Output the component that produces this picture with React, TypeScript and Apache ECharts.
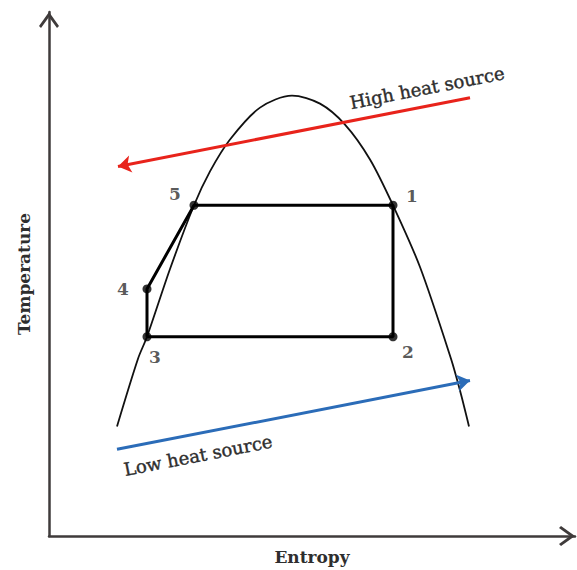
import React, { useEffect, useRef } from "react";
import * as echarts from "echarts";

// Saturation dome (entropy, temperature) in arbitrary units
const domeS = [68, 89, 98, 121, 145, 161, 181, 211, 243, 271, 296, 321, 344, 371, 402, 411, 420];
const domeT = [110, 178, 200, 268, 332, 366, 398, 430, 442, 434, 413, 378, 332, 270, 178, 146, 110];

// Cycle state points
const stateNames = ["1", "2", "3", "4", "5"];
const stateS = [344, 344, 98, 98, 145];
const stateT = [332, 200, 200, 248, 332];
const cycleOrder = [2, 3, 4, 0, 1, 2]; // 3 -> 4 -> 5 -> 1 -> 2 -> 3

// Heat source arrows (from tail to head)
const highSourceS = [421, 69];
const highSourceT = [440, 371];
const lowSourceS = [68, 421];
const lowSourceT = [87, 156];

const highLabel = "High heat source";
const lowLabel = "Low heat source";
const highLabelAt = [378, 450];
const lowLabelAt = [149, 81];

const axisMax = 526;
const FONT = "'DejaVu Serif', serif";
const TEXT = "#2e2e2e";

const labelOffsets: Record<string, number[]> = {
  "1": [19, -9],
  "2": [15, 15],
  "3": [8, 20],
  "4": [-24, 0],
  "5": [-19, -11],
};

const chevron = "path://M10,0 L20,14 L18,16 L10,5 L2,16 L0,14 Z";

export default function App() {
  const ref = useRef<HTMLDivElement>(null);
  useEffect(() => {
    if (!ref.current) return;
    const chart = echarts.init(ref.current, undefined, { renderer: "svg" });
    const axisLine = {
      show: true,
      symbol: ["none", chevron],
      symbolSize: [20, 16],
      symbolOffset: [0, -8],
      lineStyle: { color: "#3f3b3b", width: 2.5 },
    };
    const dome = domeS.map((s, i) => [s, domeT[i]]);
    const cycle = cycleOrder.map((k) => [stateS[k], stateT[k]]);
    const states = stateNames.map((n, i) => ({
      name: n,
      value: [stateS[i], stateT[i]],
      label: { offset: labelOffsets[n] },
    }));
    chart.setOption({
      animation: false,
      grid: { left: 49, right: 2, top: 12, bottom: 32, containLabel: false },
      xAxis: {
        type: "value",
        min: 0,
        max: axisMax,
        name: "Entropy",
        nameLocation: "middle",
        nameGap: 12,
        nameTextStyle: { fontFamily: FONT, fontSize: 17, fontWeight: "bold", color: TEXT, verticalAlign: "top" },
        axisLine,
        axisTick: { show: false },
        axisLabel: { show: false },
        splitLine: { show: false },
      },
      yAxis: {
        type: "value",
        min: 0,
        max: axisMax,
        name: "Temperature",
        nameLocation: "middle",
        nameRotate: 90,
        nameGap: 17,
        nameTextStyle: { fontFamily: FONT, fontSize: 17, fontWeight: "bold", color: TEXT },
        axisLine,
        axisTick: { show: false },
        axisLabel: { show: false },
        splitLine: { show: false },
      },
      series: [
        {
          type: "line",
          data: dome,
          smooth: 0.3,
          showSymbol: false,
          lineStyle: { color: "#111", width: 1.8 },
          z: 2,
        },
        {
          type: "line",
          data: cycle,
          showSymbol: false,
          lineStyle: { color: "#000", width: 3 },
          z: 3,
        },
        {
          type: "scatter",
          data: states,
          symbol: "circle",
          symbolSize: 9,
          itemStyle: { color: "#000" },
          label: {
            show: true,
            position: "inside",
            formatter: "{b}",
            fontFamily: FONT,
            fontSize: 17,
            fontWeight: "bold",
            color: TEXT,
          },
          z: 4,
        },
        {
          type: "lines",
          coordinateSystem: "cartesian2d",
          symbol: ["none", "arrow"],
          symbolSize: 13,
          data: [
            {
              coords: [
                [highSourceS[0], highSourceT[0]],
                [highSourceS[1], highSourceT[1]],
              ],
              lineStyle: { color: "#e8231b", width: 3 },
            },
            {
              coords: [
                [lowSourceS[0], lowSourceT[0]],
                [lowSourceS[1], lowSourceT[1]],
              ],
              lineStyle: { color: "#2b6cb8", width: 3 },
            },
          ],
          lineStyle: { curveness: 0, opacity: 1 },
          z: 5,
        },
      ],
    });

    const px = (p: number[]) => chart.convertToPixel({ gridIndex: 0 }, p) as number[];
    const angleOf = (a: number[], b: number[]) => {
      const pa = px(a);
      const pb = px(b);
      return -Math.atan2(pb[1] - pa[1], pb[0] - pa[0]);
    };
    const hiRot = angleOf([highSourceS[1], highSourceT[1]], [highSourceS[0], highSourceT[0]]);
    const loRot = angleOf([lowSourceS[0], lowSourceT[0]], [lowSourceS[1], lowSourceT[1]]);
    const hiPos = px(highLabelAt);
    const loPos = px(lowLabelAt);
    const textStyle = (t: string) => ({
      text: t,
      fill: TEXT,
      font: `18px ${FONT}`,
      align: "center",
      verticalAlign: "middle",
      textAlign: "center",
      textVerticalAlign: "middle",
      stroke: TEXT,
      lineWidth: 0.4,
    });
    chart.setOption({
      graphic: [
        { type: "text", x: hiPos[0], y: hiPos[1], rotation: hiRot, style: textStyle(highLabel), z: 10 },
        { type: "text", x: loPos[0], y: loPos[1], rotation: loRot, style: textStyle(lowLabel), z: 10 },
      ],
    });
    return () => chart.dispose();
  }, []);
  return (
    <div
      ref={ref}
      style={{ position: "fixed", left: 0, top: 0, width: 577, height: 570, background: "#fff" }}
    />
  );
}
